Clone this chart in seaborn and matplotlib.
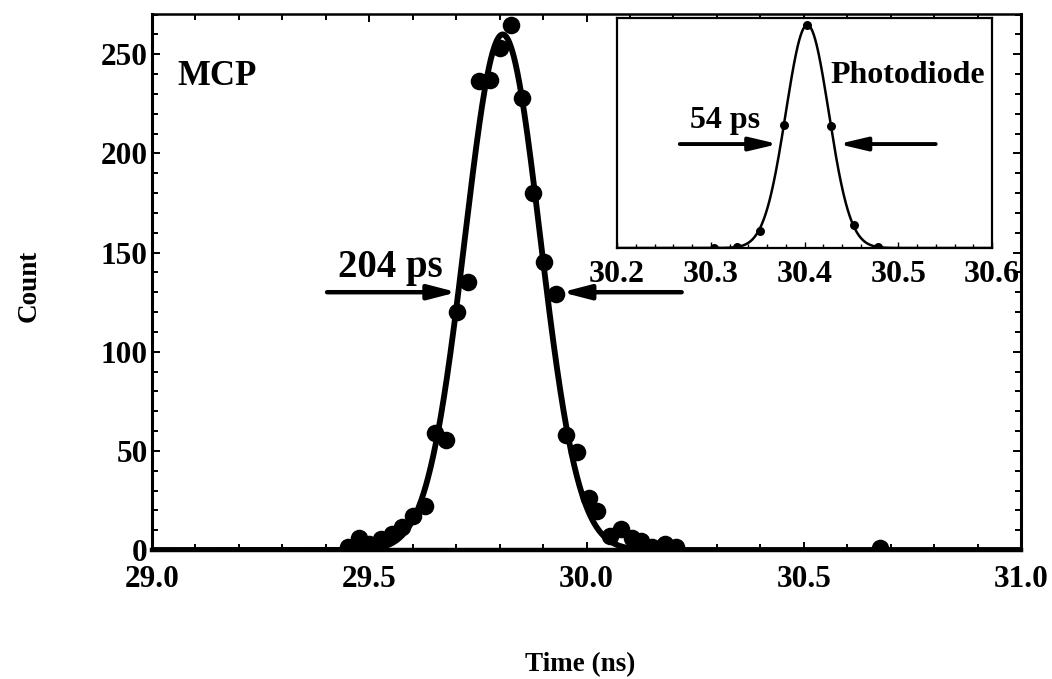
import numpy as np
import pandas as pd
import matplotlib
matplotlib.use("Agg")
import matplotlib.pyplot as plt
from matplotlib.ticker import MultipleLocator
import seaborn as sns

# ---------------- data ----------------
# MCP histogram (main panel)
mcp_time = [29.450, 29.477, 29.500, 29.527, 29.552, 29.575, 29.601, 29.628,
            29.651, 29.676, 29.702, 29.728, 29.752, 29.777, 29.801, 29.826,
            29.851, 29.876, 29.902, 29.929, 29.952, 29.978, 30.005, 30.025,
            30.054, 30.079, 30.105, 30.126, 30.150, 30.180, 30.205, 30.675]
mcp_count = [1.5, 6.0, 3.0, 5.5, 8.0, 11.5, 17.0, 22.0,
             59.0, 55.5, 120.0, 135.0, 236.5, 237.0, 253.0, 265.0,
             228.0, 180.0, 145.0, 129.0, 58.0, 49.5, 26.0, 19.5,
             7.0, 10.5, 6.0, 4.5, 1.5, 3.0, 1.5, 1.0]
# Gaussian fit of the MCP peak (centre, FWHM label, height)
mcp_fit_center = 29.807
mcp_fit_fwhm = 0.204
mcp_fit_height = 260.0

# Photodiode (inset), normalised counts
pd_time = [30.303, 30.328, 30.353, 30.378, 30.403, 30.428, 30.453, 30.478]
pd_count = [0.0, 0.006, 0.078, 0.552, 1.0, 0.547, 0.103, 0.006]
pd_fit_center = 30.403
pd_fit_fwhm = 0.054
pd_fit_height = 1.0

main_xticks = [29.0, 29.5, 30.0, 30.5, 31.0]
main_xticklabels = ["29.0", "29.5", "30.0", "30.5", "31.0"]
main_yticks = [0, 50, 100, 150, 200, 250]
inset_xticks = [30.2, 30.3, 30.4, 30.5, 30.6]
inset_xticklabels = ["30.2", "30.3", "30.4", "30.5", "30.6"]


def gauss(x, c, fwhm, h):
    return h * np.exp(-4.0 * np.log(2.0) * (x - c) ** 2 / fwhm ** 2)


mcp_df = pd.DataFrame({"time": mcp_time, "count": mcp_count})
pd_df = pd.DataFrame({"time": pd_time, "count": pd_count})
xs_main = np.linspace(29.0, 31.0, 2001)
fit_main = pd.DataFrame({"time": xs_main,
                         "count": gauss(xs_main, mcp_fit_center, mcp_fit_fwhm, mcp_fit_height)})
xs_in = np.linspace(30.2, 30.6, 801)
fit_in = pd.DataFrame({"time": xs_in,
                       "count": gauss(xs_in, pd_fit_center, pd_fit_fwhm, pd_fit_height)})

# ---------------- styling ----------------
sns.set_theme(style="ticks")
plt.rcParams["font.family"] = ["Liberation Serif", "DejaVu Serif"]
plt.rcParams["font.weight"] = "bold"
plt.rcParams["axes.labelweight"] = "bold"
plt.rcParams["text.color"] = "black"
plt.rcParams["axes.labelcolor"] = "black"
plt.rcParams["xtick.color"] = "black"
plt.rcParams["ytick.color"] = "black"
plt.rcParams["xtick.labelcolor"] = "black"
plt.rcParams["ytick.labelcolor"] = "black"

W, H = 1052, 679
fig = plt.figure(figsize=(W / 100, H / 100), dpi=100)
fig.patch.set_facecolor("white")

# main axes
L, R, T, B = 152, 1021, 14, 550
ax = fig.add_axes([L / W, 1 - B / H, (R - L) / W, (B - T) / H])
ax.set_facecolor("white")

sns.lineplot(data=fit_main, x="time", y="count", color="black", lw=4.2,
             estimator=None, ax=ax, zorder=2)
sns.scatterplot(data=mcp_df, x="time", y="count", s=160, color="black",
                linewidth=0, ax=ax, zorder=3)

ax.set_xlim(29.0, 31.0)
ax.set_ylim(0, 270.3)
ax.set_xticks(main_xticks)
ax.set_xticklabels(main_xticklabels)
ax.set_yticks(main_yticks)
ax.xaxis.set_minor_locator(MultipleLocator(0.1))
ax.yaxis.set_minor_locator(MultipleLocator(10))
ax.tick_params(which="both", direction="in", top=True, right=True,
               colors="black", width=1.4)
ax.tick_params(which="major", length=6)
ax.tick_params(which="minor", length=4)
ax.tick_params(axis="x", which="major", labelsize=22.5, pad=10.5)
ax.tick_params(axis="y", which="major", labelsize=22.5, pad=3)
for lab in ax.get_xticklabels() + ax.get_yticklabels():
    lab.set_fontweight("bold")
    lab.set_color("black")

for side, lw in [("left", 2.2), ("bottom", 3.2), ("top", 1.8), ("right", 2.2)]:
    ax.spines[side].set_visible(True)
    ax.spines[side].set_linewidth(lw)
    ax.spines[side].set_color("black")

ax.set_xlabel("Time (ns)", fontsize=19.5, fontweight="bold", color="black")
ax.set_ylabel("Count", fontsize=19.5, fontweight="bold", color="black")
ax.xaxis.set_label_coords((580 - L) / (R - L), (B - 665) / (B - T))
ax.xaxis.label.set_verticalalignment("center")
ax.yaxis.set_label_coords((29 - L) / (R - L), (B - 286) / (B - T))
ax.yaxis.label.set_verticalalignment("center")

ax.text(29.0575, 234.5, "MCP", fontsize=25, fontweight="bold", color="black",
        ha="left", va="baseline")
ax.text(29.428, 137.7, "204 ps", fontsize=28, fontweight="bold", color="black",
        ha="left", va="baseline")

arrow_main = dict(arrowstyle="-|>,head_length=0.85,head_width=0.22",
                  lw=3.2, color="black", mutation_scale=20,
                  shrinkA=0, shrinkB=0)
ax.annotate("", xy=(29.702, 130), xytext=(29.403, 130), arrowprops=arrow_main, zorder=4)
ax.annotate("", xy=(29.943, 130), xytext=(30.219, 130), arrowprops=arrow_main, zorder=4)

# inset axes
iL, iR, iT, iB = 617, 992, 18, 248
ax_in = fig.add_axes([iL / W, 1 - iB / H, (iR - iL) / W, (iB - iT) / H])
ax_in.set_facecolor("white")
sns.lineplot(data=fit_in, x="time", y="count", color="black", lw=1.8,
             estimator=None, ax=ax_in, zorder=2)
sns.scatterplot(data=pd_df, x="time", y="count", s=42, color="black",
                linewidth=0, ax=ax_in, zorder=3)
ax_in.set_xlim(30.2, 30.6)
ax_in.set_ylim(0, 1.031)
ax_in.set_xticks(inset_xticks)
ax_in.set_xticklabels(inset_xticklabels)
ax_in.xaxis.set_minor_locator(MultipleLocator(0.02))
ax_in.set_yticks([])
ax_in.tick_params(axis="x", which="both", direction="in", bottom=True, top=False,
                  width=1.0, colors="black")
ax_in.tick_params(axis="x", which="major", length=4, labelsize=23, pad=9)
ax_in.tick_params(axis="x", which="minor", length=3)
for lab in ax_in.get_xticklabels():
    lab.set_fontweight("bold")
    lab.set_color("black")
for side in ["left", "bottom", "top", "right"]:
    ax_in.spines[side].set_visible(True)
    ax_in.spines[side].set_linewidth(1.6)
    ax_in.spines[side].set_color("black")
ax_in.set_xlabel("")
ax_in.set_ylabel("")

ax_in.text(30.278, 0.538, "54 ps", fontsize=23, fontweight="bold", color="black",
           ha="left", va="baseline")
ax_in.text(30.428, 0.74, "Photodiode", fontsize=23, fontweight="bold", color="black",
           ha="left", va="baseline")
arrow_in = dict(arrowstyle="-|>,head_length=0.85,head_width=0.2",
                lw=2.8, color="black", mutation_scale=20,
                shrinkA=0, shrinkB=0)
ax_in.annotate("", xy=(30.372, 0.466), xytext=(30.267, 0.466), arrowprops=arrow_in, zorder=4)
ax_in.annotate("", xy=(30.436, 0.466), xytext=(30.540, 0.466), arrowprops=arrow_in, zorder=4)

fig.savefig("out.png", dpi=100, facecolor="white")
